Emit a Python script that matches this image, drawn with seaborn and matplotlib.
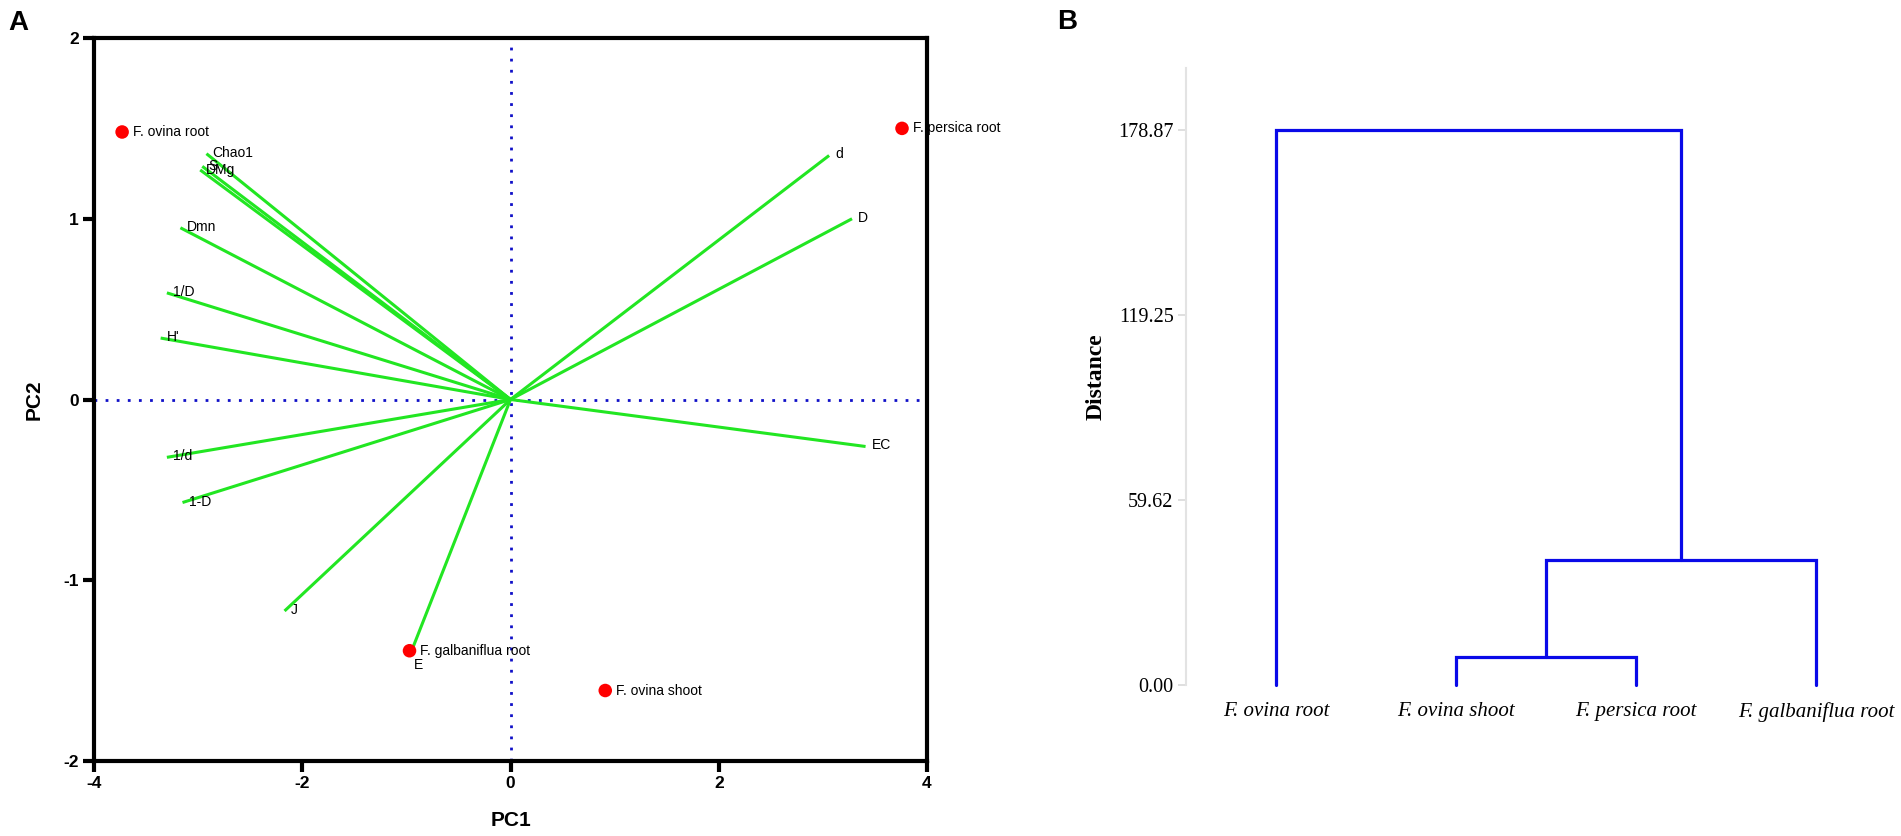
import numpy as np
import pandas as pd
import matplotlib
matplotlib.use("Agg")
import matplotlib.pyplot as plt
import seaborn as sns

# PCA scores (samples)
sample_names = ["F. ovina root", "F. persica root", "F. galbaniflua root", "F. ovina shoot"]
sample_pc1 = [-3.73, 3.76, -0.97, 0.91]
sample_pc2 = [1.48, 1.50, -1.39, -1.61]

# PCA loadings (diversity indices)
index_names = ["Chao1", "S", "DMg", "Dmn", "1/D", "H'", "1/d", "1-D", "J", "E", "EC", "d", "D"]
index_pc1 = [-2.92, -2.96, -2.98, -3.17, -3.30, -3.36, -3.30, -3.15, -2.17, -0.97, 3.41, 3.06, 3.28]
index_pc2 = [1.36, 1.29, 1.27, 0.95, 0.59, 0.34, -0.32, -0.57, -1.17, -1.42, -0.26, 1.35, 1.00]

# dendrogram
leaf_names = ["F. ovina root", "F. ovina shoot", "F. persica root", "F. galbaniflua root"]
link_left = [1, 4, 0]
link_right = [2, 3, 5]
link_height = [9.0, 40.3, 178.87]
dist_ticks = [0.00, 59.62, 119.25, 178.87]

sns.set_style("white")
plt.rcParams['font.family'] = ['Liberation Sans', 'DejaVu Sans']
plt.rcParams['axes.unicode_minus'] = False
plt.rcParams['text.color'] = 'black'
plt.rcParams['axes.labelcolor'] = 'black'
plt.rcParams['xtick.color'] = 'black'
plt.rcParams['ytick.color'] = 'black'

fig = plt.figure(figsize=(19.01, 8.36), dpi=100)
W, H = 1901, 836

# ---------------- A: PCA biplot ----------------
ax1 = fig.add_axes([94 / W, 1 - 761 / H, (927 - 94) / W, (761 - 38) / H])

scores = pd.DataFrame({"PC1": sample_pc1, "PC2": sample_pc2, "name": sample_names})
loads = pd.DataFrame({"PC1": index_pc1, "PC2": index_pc2, "name": index_names})

ax1.axhline(0, color="#1010c8", ls=(0, (1, 3)), lw=2, zorder=1)
ax1.axvline(0, color="#1010c8", ls=(0, (1, 3)), lw=2, zorder=1)

for _, r in loads.iterrows():
    ax1.plot([0, r.PC1], [0, r.PC2], color="#22e622", lw=2.2, zorder=2, solid_capstyle="butt")

label_off = {"E": (4, -9), "S": (6, 0), "DMg": (6, 0)}
for _, r in loads.iterrows():
    dx, dy = label_off.get(r["name"], (6, 1))
    ax1.annotate(r["name"], (r.PC1, r.PC2), xytext=(dx, dy), textcoords="offset pixels",
                 ha="left", va="center", fontsize=10, color="black", zorder=2)

sns.scatterplot(data=scores, x="PC1", y="PC2", ax=ax1, color="#ff0000", s=95,
                edgecolor="none", zorder=3, legend=False)
for _, r in scores.iterrows():
    ax1.annotate(r["name"], (r.PC1, r.PC2), xytext=(11, 0), textcoords="offset pixels",
                 ha="left", va="center", fontsize=10, color="black", zorder=2,
                 annotation_clip=False)

ax1.set_xlim(-4, 4)
ax1.set_ylim(-2, 2)
ax1.set_xticks([-4, -2, 0, 2, 4])
ax1.set_yticks([-2, -1, 0, 1, 2])
for s in ax1.spines.values():
    s.set_linewidth(3)
    s.set_color("black")
    s.set_zorder(2.5)
ax1.tick_params(direction="out", length=8, width=3, labelsize=12.5, pad=3,
                left=True, bottom=True, colors="black")
for t in ax1.get_xticklabels() + ax1.get_yticklabels():
    t.set_fontweight("bold")
ax1.set_xlabel("PC1", fontsize=15, fontweight="bold", labelpad=14)
ax1.set_ylabel("PC2", fontsize=15, fontweight="bold", labelpad=14)

# ---------------- B: dendrogram ----------------
ax2 = fig.add_axes([1186 / W, 1 - 685 / H, 711 / W, (685 - 68) / H])
node_x = [10 * i + 5 for i in range(len(leaf_names))]
node_h = [0.0] * len(leaf_names)
for a, b, h in zip(link_left, link_right, link_height):
    xa, xb = node_x[a], node_x[b]
    ax2.plot([xa, xa, xb, xb], [node_h[a], h, h, node_h[b]], color="#0a0ae8", lw=2.3,
             solid_joinstyle="miter", clip_on=False)
    node_x.append((xa + xb) / 2)
    node_h.append(h)

ax2.set_xlim(0, 39.5)
ax2.set_ylim(0, 199)
ax2.set_xticks([10 * i + 5 for i in range(len(leaf_names))])
ax2.set_xticklabels(leaf_names, fontsize=15, fontstyle="italic", family="Liberation Serif")
ax2.set_yticks(dist_ticks)
ax2.set_yticklabels([f"{v:.2f}" for v in dist_ticks], fontsize=14.5, family="Liberation Serif")
ax2.tick_params(axis="x", length=0, pad=12)
ax2.tick_params(axis="y", length=6, width=1.2, color="#d9d9d9", labelcolor="black", pad=3, left=True)
for k in ["top", "right", "bottom"]:
    ax2.spines[k].set_visible(False)
ax2.spines["left"].set_color("#e3e3e3")
ax2.spines["left"].set_linewidth(1.5)
ax2.set_ylabel("Distance", fontsize=17, fontweight="bold", family="Liberation Serif", labelpad=8)

fig.text(18 / W, 1 - 23 / H, "A", fontsize=20, fontweight="bold", ha="center", va="center")
fig.text(1067 / W, 1 - 22 / H, "B", fontsize=20, fontweight="bold", ha="center", va="center")

fig.savefig("out.png", dpi=100)
